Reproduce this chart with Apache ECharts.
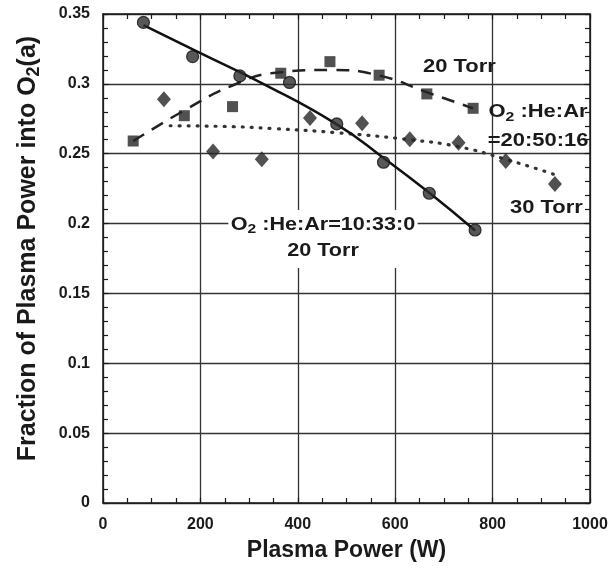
<!DOCTYPE html>
<html>
<head>
<meta charset="utf-8">
<script src="https://cdn.jsdelivr.net/npm/echarts@6/dist/echarts.min.js"></script>
<style>
  html, body { margin: 0; padding: 0; background: #fff; }
  #main { width: 613px; height: 569px; }
</style>
</head>
<body>
<div id="main"></div>
<script>
  // O2:He:Ar=10:33:0, 20 Torr (circles, solid fit)
  var circleX = [83, 184, 281, 383, 480, 576, 670, 764]
  var circleY = [0.344, 0.3195, 0.3057, 0.301, 0.2713, 0.2439, 0.2217, 0.1954]
  var solidX = [83, 200, 329, 480, 576, 670, 764]
  var solidY = [0.342, 0.322, 0.300, 0.271, 0.247, 0.222, 0.195]

  // O2:He:Ar=20:50:16, 20 Torr (squares, dashed fit)
  var squareX = [62, 167, 266, 365, 466, 567, 665, 760]
  var squareY = [0.2591, 0.2772, 0.2837, 0.3076, 0.3159, 0.3062, 0.2928, 0.2825]
  var dashX = [62, 167, 267, 356, 466, 567, 665, 760]
  var dashY = [0.259, 0.281, 0.299, 0.308, 0.310, 0.306, 0.294, 0.2825]

  // 30 Torr (diamonds, dotted fit)
  var diamondX = [125, 226, 326, 425, 532, 630, 730, 827, 928]
  var diamondY = [0.289, 0.2515, 0.246, 0.2756, 0.2718, 0.2603, 0.2579, 0.2448, 0.2283]
  var dotX = [138, 250, 350, 480, 630, 730, 827, 928]
  var dotY = [0.270, 0.2695, 0.268, 0.265, 0.260, 0.255, 0.246, 0.235]

  function pairs(xs, ys) {
    return xs.map(function (x, i) { return [x, ys[i]] })
  }

  var ink = '#1a1a1a'
  var font = 'Liberation Sans, Arial, sans-serif'

  function axis(extra) {
    return Object.assign({
      type: 'value',
      axisLine: { show: true, onZero: false, lineStyle: { color: ink, width: 1.5 } },
      axisTick: { show: true, inside: true, length: 6, lineStyle: { color: ink, width: 1 } },
      axisLabel: { show: false },
      splitLine: { show: false }
    }, extra)
  }

  // small ticks only: no line, no labels
  function minorAxis(extra) {
    return Object.assign({
      type: 'value',
      axisLine: { show: false, onZero: false },
      axisTick: { show: true, inside: true, length: 5, lineStyle: { color: ink, width: 1.2 } },
      axisLabel: { show: false },
      splitLine: { show: false }
    }, extra)
  }

  // rich styles for the chemical formula labels
  function richFor(size, lh) {
    return {
      b: { fontSize: size, fontFamily: font, fontWeight: 'bold', color: ink, fill: ink, lineHeight: lh, align: 'center' },
      sub: { fontSize: Math.round(size * 0.7), fontFamily: font, fontWeight: 'bold', color: ink, fill: ink, lineHeight: lh, padding: [Math.round(size * 0.5), 0, 0, 0], align: 'center' }
    }
  }

  var chart = echarts.init(document.getElementById('main'))
  chart.setOption({
    animation: false,
    backgroundColor: '#fff',
    grid: { left: 103, right: 23, top: 14, bottom: 66 },
    xAxis: [
      axis({
        min: 0, max: 1000, interval: 200,
        splitLine: { show: true, lineStyle: { color: '#333', width: 1.3 } },
        axisLabel: {
          show: true, margin: 14, fontSize: 16, fontWeight: 'bold', color: ink, fontFamily: font,
          formatter: function (v) { return String(v) }
        },
        name: 'Plasma Power (W)',
        nameLocation: 'middle',
        nameGap: 36,
        nameTextStyle: { fontSize: 23, fontWeight: 'bold', color: ink, fontFamily: font }
      }),
      axis({ position: 'top', min: 0, max: 1000, interval: 200 }),
      minorAxis({ position: 'bottom', min: 0, max: 1000, interval: 50 }),
      minorAxis({ position: 'top', min: 0, max: 1000, interval: 50 })
    ],
    yAxis: [
      axis({
        min: 0, max: 0.35, interval: 0.05,
        splitLine: { show: true, lineStyle: { color: '#333', width: 1.3 } },
        axisLabel: { show: true, margin: 13, fontSize: 16, fontWeight: 'bold', color: ink, fontFamily: font },
        name: '{b|Fraction of Plasma Power into O}{sub|2}{b|(a)}',
        nameLocation: 'middle',
        nameGap: 60,
        nameTextStyle: {
          fontSize: 25, fontWeight: 'bold', color: ink, fontFamily: font,
          padding: [0, 0, 0, 20],
          rich: richFor(25, 30)
        }
      }),
      axis({ position: 'right', min: 0, max: 0.35, interval: 0.05 }),
      minorAxis({ position: 'left', min: 0, max: 0.35, interval: 0.01 }),
      minorAxis({ position: 'right', min: 0, max: 0.35, interval: 0.01 })
    ],
    series: [
      {
        type: 'line', data: pairs(dotX, dotY), smooth: true, symbol: 'none',
        lineStyle: { color: '#333', width: 3.2, type: [1, 8], cap: 'round' }, z: 3
      },
      {
        type: 'line', data: pairs(dashX, dashY), smooth: true, symbol: 'none',
        lineStyle: { color: '#222', width: 2.5, type: [13, 9] }, z: 3
      },
      {
        type: 'line', data: pairs(solidX, solidY), smooth: true, symbol: 'none',
        lineStyle: { color: '#111', width: 2.5 }, z: 3
      },
      {
        type: 'scatter', data: pairs(diamondX, diamondY), symbol: 'diamond', symbolSize: [14, 16],
        itemStyle: { color: '#262626' }, z: 4
      },
      {
        type: 'scatter', data: pairs(squareX, squareY), symbol: 'rect', symbolSize: 11,
        itemStyle: { color: '#262626' }, z: 4
      },
      {
        type: 'scatter', data: pairs(circleX, circleY), symbol: 'circle', symbolSize: 12,
        itemStyle: { color: '#2e2e2e', borderColor: '#111', borderWidth: 1.2 }, z: 4
      }
    ],
    graphic: [
      {
        type: 'text', x: 423, y: 58, scaleX: 1.22, z: 10,
        style: { text: '20 Torr', font: 'bold 18px ' + font, fill: ink }
      },
      {
        type: 'text', x: 538, y: 98, scaleX: 1.22, z: 10,
        style: {
          text: '{b|O}{sub|2}{b| :He:Ar}\n{b|=20:50:16}',
          align: 'center', fill: ink,
          rich: richFor(18, 29)
        }
      },
      {
        type: 'text', x: 510, y: 199, scaleX: 1.22, z: 10,
        style: { text: '30 Torr', font: 'bold 18px ' + font, fill: ink }
      },
      {
        type: 'text', x: 323, y: 210, scaleX: 1.2, z: 10,
        style: {
          text: '{b|O}{sub|2}{b| :He:Ar=10:33:0}\n{b|20 Torr}',
          align: 'center', fill: ink, backgroundColor: '#fff',
          padding: [2, 2, 4, 2],
          rich: richFor(18, 26)
        }
      }
    ]
  })
</script>
</body>
</html>
